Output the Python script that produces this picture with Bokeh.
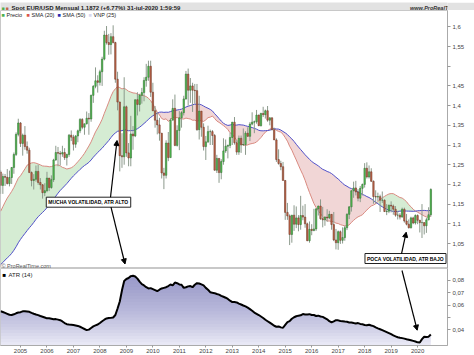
import numpy as np
import pandas as pd
from bokeh.plotting import figure
from bokeh.layouts import column
from bokeh.models import (Range1d, LinearAxis, FixedTicker, CustomJSTickFormatter,
                          Label, Arrow, NormalHead, ColumnDataSource)
from bokeh.embed import file_html
from bokeh.resources import INLINE

FONT = "Liberation Sans"

# ---------------- data (monthly EUR/USD) ----------------
start_year, start_month = 2004, 4          # first visible bar: Apr 2004
# closes before the visible window (Jan 2000 - Mar 2004), used to warm up the SMAs
hist_close = [0.970, 0.966, 0.957, 0.910, 0.935, 0.953, 0.925, 0.887, 0.882, 0.850, 0.870, 0.939,
              0.936, 0.921, 0.880, 0.887, 0.847, 0.849, 0.875, 0.912, 0.913, 0.904, 0.892, 0.890,
              0.859, 0.868, 0.872, 0.901, 0.933, 0.991, 0.977, 0.981, 0.987, 0.988, 0.993, 1.049,
              1.074, 1.078, 1.091, 1.117, 1.182, 1.150, 1.124, 1.098, 1.165, 1.160, 1.199, 1.259,
              1.247, 1.245, 1.2316]

opens = [1.2316, 1.1975, 1.2200, 1.2180, 1.2020, 1.2175, 1.2430, 1.2760, 1.3270,
         1.3560, 1.3040, 1.3250, 1.2960, 1.2870, 1.2300, 1.2100, 1.2130, 1.2330, 1.2050, 1.1990, 1.1790,
         1.1840, 1.2160, 1.1920, 1.2120, 1.2620, 1.2810, 1.2790, 1.2770, 1.2810, 1.2680, 1.2760, 1.3250,
         1.3200, 1.3020, 1.3230, 1.3360, 1.3650, 1.3450, 1.3540, 1.3680, 1.3660, 1.4260, 1.4490, 1.4630,
         1.4590, 1.4860, 1.5180, 1.5790, 1.5600, 1.5550, 1.5750, 1.5600, 1.4670, 1.4090, 1.2730, 1.2700,
         1.3970, 1.2800, 1.2670, 1.3280, 1.3230, 1.4150, 1.4030, 1.4260, 1.4330, 1.4640, 1.4720, 1.5000,
         1.4340, 1.3870, 1.3630, 1.3510, 1.3300, 1.2290, 1.2230, 1.3050, 1.2680, 1.3630, 1.3930, 1.2990,
         1.3370, 1.3690, 1.3820, 1.4170, 1.4800, 1.4390, 1.4500, 1.4390, 1.4380, 1.3390, 1.3860, 1.3450,
         1.2960, 1.3080, 1.3340, 1.3340, 1.3240, 1.2360, 1.2660, 1.2300, 1.2580, 1.2850, 1.2970, 1.2990,
         1.3190, 1.3580, 1.3060, 1.2820, 1.3170, 1.3000, 1.3010, 1.3300, 1.3220, 1.3530, 1.3580, 1.3590,
         1.3760, 1.3490, 1.3800, 1.3770, 1.3870, 1.3630, 1.3690, 1.3390, 1.3130, 1.2630, 1.2530, 1.2450,
         1.2100, 1.1290, 1.1200, 1.0730, 1.1220, 1.0990, 1.1150, 1.0980, 1.1210, 1.1170, 1.1000, 1.0570,
         1.0860, 1.0830, 1.0870, 1.1380, 1.1450, 1.1130, 1.1100, 1.1170, 1.1150, 1.1240, 1.0980, 1.0590,
         1.0520, 1.0800, 1.0580, 1.0650, 1.0900, 1.1240, 1.1430, 1.1840, 1.1910, 1.1810, 1.1650, 1.1900,
         1.2000, 1.2410, 1.2190, 1.2320, 1.2080, 1.1690, 1.1680, 1.1690, 1.1600, 1.1600, 1.1310, 1.1320,
         1.1470, 1.1450, 1.1370, 1.1220, 1.1220, 1.1170, 1.1370, 1.1070, 1.0990, 1.0900, 1.1150, 1.1020,
         1.1210, 1.1090, 1.1030, 1.1030, 1.0950, 1.1100, 1.1230]

highs = [1.2360, 1.2275, 1.2265, 1.2390, 1.2350, 1.2440, 1.2810, 1.3320, 1.3667,
         1.3580, 1.3290, 1.3480, 1.3090, 1.2930, 1.2330, 1.2260, 1.2480, 1.2500, 1.2160, 1.2010, 1.2030,
         1.2320, 1.2160, 1.2230, 1.2650, 1.2980, 1.2950, 1.2850, 1.2980, 1.2920, 1.2780, 1.3280, 1.3370,
         1.3260, 1.3250, 1.3390, 1.3680, 1.3680, 1.3540, 1.3850, 1.3810, 1.4280, 1.4520, 1.4970, 1.4770,
         1.4910, 1.5240, 1.5900, 1.6020, 1.5820, 1.5840, 1.6038, 1.5620, 1.4860, 1.4100, 1.3300, 1.4720,
         1.4000, 1.3050, 1.3740, 1.3480, 1.4150, 1.4340, 1.4300, 1.4450, 1.4720, 1.5060, 1.5140, 1.5140,
         1.4580, 1.3990, 1.3820, 1.3690, 1.3300, 1.2420, 1.3120, 1.3330, 1.3680, 1.4160, 1.4280, 1.3500,
         1.3860, 1.3860, 1.4250, 1.4880, 1.4940, 1.4700, 1.4580, 1.4550, 1.4550, 1.4250, 1.3860, 1.3550,
         1.3230, 1.3490, 1.3390, 1.3380, 1.3280, 1.2750, 1.2670, 1.2640, 1.3170, 1.3140, 1.3010, 1.3310,
         1.3580, 1.3710, 1.3120, 1.3240, 1.3240, 1.3420, 1.3350, 1.3450, 1.3580, 1.3830, 1.3620, 1.3890,
         1.3770, 1.3820, 1.3970, 1.3900, 1.3990, 1.3700, 1.3700, 1.3440, 1.3170, 1.2890, 1.2600, 1.2570,
         1.2110, 1.1530, 1.1240, 1.1220, 1.1470, 1.1440, 1.1220, 1.1710, 1.1460, 1.1500, 1.1030, 1.1060,
         1.0990, 1.1380, 1.1390, 1.1460, 1.1620, 1.1430, 1.1190, 1.1370, 1.1330, 1.1240, 1.1300, 1.0870,
         1.0830, 1.0830, 1.0910, 1.0950, 1.1270, 1.1450, 1.1850, 1.2070, 1.2090, 1.1880, 1.1960, 1.2020,
         1.2540, 1.2560, 1.2480, 1.2410, 1.2100, 1.1850, 1.1790, 1.1740, 1.1820, 1.1620, 1.1500, 1.1490,
         1.1570, 1.1490, 1.1450, 1.1330, 1.1270, 1.1410, 1.1410, 1.1250, 1.1110, 1.1180, 1.1180, 1.1240,
         1.1240, 1.1100, 1.1500, 1.1040, 1.1150, 1.1420, 1.1900]

lows = [1.1760, 1.1760, 1.1960, 1.2000, 1.1950, 1.2010, 1.2270, 1.2720, 1.3220,
        1.2950, 1.2730, 1.2880, 1.2780, 1.2300, 1.1950, 1.1870, 1.2070, 1.1990, 1.1870, 1.1640, 1.1700,
        1.1800, 1.1830, 1.1890, 1.2060, 1.2600, 1.2460, 1.2480, 1.2700, 1.2620, 1.2480, 1.2700, 1.3100,
        1.2860, 1.2930, 1.3070, 1.3300, 1.3400, 1.3260, 1.3520, 1.3260, 1.3590, 1.4070, 1.4440, 1.4330,
        1.4510, 1.4500, 1.5150, 1.5550, 1.5290, 1.5300, 1.5580, 1.4580, 1.3880, 1.2330, 1.2420, 1.2500,
        1.2700, 1.2460, 1.2460, 1.2880, 1.3200, 1.3750, 1.3850, 1.4050, 1.4110, 1.4480, 1.4630, 1.4220,
        1.3860, 1.3440, 1.3270, 1.3110, 1.2150, 1.1880, 1.2150, 1.2590, 1.2680, 1.3630, 1.2970, 1.2960,
        1.2870, 1.3440, 1.3750, 1.4150, 1.4000, 1.4070, 1.3840, 1.4050, 1.3360, 1.3140, 1.3210, 1.2860,
        1.2620, 1.3050, 1.3000, 1.3000, 1.2350, 1.2290, 1.2040, 1.2130, 1.2500, 1.2800, 1.2660, 1.2920,
        1.3000, 1.3010, 1.2750, 1.2750, 1.2800, 1.2990, 1.2750, 1.3210, 1.3100, 1.3500, 1.3300, 1.3540,
        1.3480, 1.3470, 1.3710, 1.3670, 1.3590, 1.3500, 1.3370, 1.3130, 1.2570, 1.2500, 1.2360, 1.2100,
        1.1100, 1.1100, 1.0460, 1.0520, 1.0820, 1.0890, 1.0810, 1.0850, 1.1090, 1.0900, 1.0560, 1.0520,
        1.0710, 1.0810, 1.0820, 1.1210, 1.1100, 1.0910, 1.0950, 1.1050, 1.1120, 1.0850, 1.0560, 1.0350,
        1.0340, 1.0490, 1.0500, 1.0570, 1.0840, 1.1120, 1.1310, 1.1660, 1.1720, 1.1570, 1.1550, 1.1720,
        1.1920, 1.2150, 1.2150, 1.2060, 1.1510, 1.1510, 1.1580, 1.1300, 1.1530, 1.1300, 1.1220, 1.1270,
        1.1290, 1.1230, 1.1180, 1.1110, 1.1110, 1.1160, 1.1030, 1.0960, 1.0880, 1.0880, 1.0990, 1.0980,
        1.0990, 1.0780, 1.0640, 1.0730, 1.0770, 1.1090, 1.1180]

closes = [1.1975, 1.2200, 1.2180, 1.2020, 1.2175, 1.2430, 1.2760, 1.3270, 1.3560,
          1.3040, 1.3250, 1.2960, 1.2870, 1.2300, 1.2100, 1.2130, 1.2330, 1.2050, 1.1990, 1.1790, 1.1840,
          1.2160, 1.1920, 1.2120, 1.2620, 1.2810, 1.2790, 1.2770, 1.2810, 1.2680, 1.2760, 1.3250, 1.3200,
          1.3020, 1.3230, 1.3360, 1.3650, 1.3450, 1.3540, 1.3680, 1.3660, 1.4260, 1.4490, 1.4630, 1.4590,
          1.4860, 1.5180, 1.5790, 1.5600, 1.5550, 1.5750, 1.5600, 1.4670, 1.4090, 1.2730, 1.2700, 1.3970,
          1.2800, 1.2670, 1.3280, 1.3230, 1.4150, 1.4030, 1.4260, 1.4330, 1.4640, 1.4720, 1.5000, 1.4340,
          1.3870, 1.3630, 1.3510, 1.3300, 1.2290, 1.2230, 1.3050, 1.2680, 1.3630, 1.3930, 1.2990, 1.3370,
          1.3690, 1.3820, 1.4170, 1.4800, 1.4390, 1.4500, 1.4390, 1.4380, 1.3390, 1.3860, 1.3450, 1.2960,
          1.3080, 1.3340, 1.3340, 1.3240, 1.2360, 1.2660, 1.2300, 1.2580, 1.2850, 1.2970, 1.2990, 1.3190,
          1.3580, 1.3060, 1.2820, 1.3170, 1.3000, 1.3010, 1.3300, 1.3220, 1.3530, 1.3580, 1.3590, 1.3760,
          1.3490, 1.3800, 1.3770, 1.3870, 1.3630, 1.3690, 1.3390, 1.3130, 1.2630, 1.2530, 1.2450, 1.2100,
          1.1290, 1.1200, 1.0730, 1.1220, 1.0990, 1.1150, 1.0980, 1.1210, 1.1170, 1.1000, 1.0570, 1.0860,
          1.0830, 1.0870, 1.1380, 1.1450, 1.1130, 1.1100, 1.1170, 1.1150, 1.1240, 1.0980, 1.0590, 1.0520,
          1.0800, 1.0580, 1.0650, 1.0900, 1.1240, 1.1430, 1.1840, 1.1910, 1.1810, 1.1650, 1.1900, 1.2000,
          1.2410, 1.2190, 1.2320, 1.2080, 1.1690, 1.1680, 1.1690, 1.1600, 1.1600, 1.1310, 1.1320, 1.1470,
          1.1450, 1.1370, 1.1220, 1.1220, 1.1170, 1.1370, 1.1070, 1.0990, 1.0900, 1.1150, 1.1020, 1.1210,
          1.1090, 1.1030, 1.1030, 1.0950, 1.1100, 1.1230, 1.1872]

# ATR(14), one value per month (Apr 2004 - Jul 2020)
atr14 = [0.0551, 0.0545, 0.0538, 0.0530, 0.0522, 0.0520, 0.0526, 0.0534, 0.0540,
         0.0543, 0.0550, 0.0551, 0.0549, 0.0546, 0.0537, 0.0530, 0.0524, 0.0519, 0.0512, 0.0506, 0.0500,
         0.0493, 0.0494, 0.0490, 0.0486, 0.0487, 0.0483, 0.0478, 0.0468, 0.0455, 0.0446, 0.0443, 0.0442,
         0.0440, 0.0436, 0.0432, 0.0425, 0.0416, 0.0407, 0.0398, 0.0402, 0.0415, 0.0428, 0.0436, 0.0443,
         0.0456, 0.0470, 0.0482, 0.0492, 0.0496, 0.0497, 0.0500, 0.0520, 0.0573, 0.0630, 0.0720, 0.0795,
         0.0812, 0.0820, 0.0835, 0.0838, 0.0832, 0.0815, 0.0790, 0.0770, 0.0760, 0.0745, 0.0735, 0.0738,
         0.0730, 0.0722, 0.0713, 0.0725, 0.0735, 0.0740, 0.0745, 0.0755, 0.0767, 0.0760, 0.0783, 0.0778,
         0.0768, 0.0765, 0.0740, 0.0745, 0.0752, 0.0755, 0.0745, 0.0765, 0.0778, 0.0775, 0.0768, 0.0760,
         0.0740, 0.0725, 0.0705, 0.0700, 0.0697, 0.0690, 0.0685, 0.0675, 0.0668, 0.0660, 0.0650, 0.0636,
         0.0625, 0.0625, 0.0622, 0.0612, 0.0605, 0.0597, 0.0590, 0.0580, 0.0568, 0.0555, 0.0540, 0.0530,
         0.0520, 0.0508, 0.0496, 0.0482, 0.0470, 0.0458, 0.0446, 0.0433, 0.0425, 0.0428, 0.0420, 0.0417,
         0.0440, 0.0462, 0.0470, 0.0490, 0.0502, 0.0510, 0.0515, 0.0518, 0.0528, 0.0525, 0.0525, 0.0527,
         0.0520, 0.0520, 0.0512, 0.0515, 0.0508, 0.0505, 0.0495, 0.0485, 0.0470, 0.0460, 0.0468, 0.0478,
         0.0477, 0.0472, 0.0470, 0.0467, 0.0465, 0.0460, 0.0460, 0.0455, 0.0452, 0.0455, 0.0448, 0.0445,
         0.0440, 0.0438, 0.0441, 0.0435, 0.0430, 0.0420, 0.0412, 0.0405, 0.0398, 0.0390, 0.0382, 0.0374,
         0.0365, 0.0355, 0.0347, 0.0340, 0.0336, 0.0333, 0.0329, 0.0324, 0.0320, 0.0316, 0.0311, 0.0306,
         0.0299, 0.0297, 0.0325, 0.0344, 0.0343, 0.0345, 0.0363]

year_ticks = list(range(2005, 2021))
price_ticks = [1.05, 1.1, 1.15, 1.2, 1.25, 1.3, 1.35, 1.4, 1.45, 1.5, 1.55, 1.6]
atr_ticks = [0.04, 0.05, 0.06, 0.07, 0.08]
last_price, last_sma50, last_sma20, last_atr = 1.1872, 1.1345, 1.1196, 0.0363
title_text = "Spot EUR/USD Mensual 1,1872 (+6,77%) 31-jul-2020 1:59:59"

# ---------------- derived ----------------
n = len(closes)
t = np.array([start_year + (start_month - 1 + i) / 12.0 for i in range(n)])
o, h, l, c = map(np.array, (opens, highs, lows, closes))
all_close = pd.Series(hist_close + closes)
sma20 = all_close.rolling(20).mean().to_numpy()[-n:]
sma50 = all_close.rolling(50).mean().to_numpy()[-n:]
atr = np.array(atr14)

XR = Range1d(2004.2444, 2021.13)
W = 474

# ---------------- title strip ----------------
pt = figure(width=W, height=10, x_range=Range1d(0, W), y_range=Range1d(0, 10),
            x_axis_type=None, y_axis_type=None, toolbar_location=None, output_backend="svg",
            min_border_left=0, min_border_right=0, min_border_top=0, min_border_bottom=0,
            background_fill_color="#e2e2e2", border_fill_color="#e2e2e2", outline_line_color=None)
pt.add_layout(Label(x=1, y=5, x_units="screen", y_units="screen", text="■", text_color="#4caf50",
                    text_font=FONT, text_font_size="5px", text_baseline="middle"))
pt.add_layout(Label(x=5, y=5, x_units="screen", y_units="screen", text="■", text_color="#c0674a",
                    text_font=FONT, text_font_size="5px", text_baseline="middle"))
pt.add_layout(Label(x=11, y=5, x_units="screen", y_units="screen", text=title_text, text_color="#222222",
                    text_font=FONT, text_font_size="6px", text_font_style="bold", text_baseline="middle"))
pt.add_layout(Label(x=470, y=5, x_units="screen", y_units="screen", text="www.ProRealTime.com",
                    text_color="#333333", text_font=FONT, text_font_size="5.5px", text_font_style="bold italic",
                    text_align="right", text_baseline="middle"))

# ---------------- price panel ----------------
pm = figure(width=W, height=258, x_range=XR, y_range=Range1d(0.98655, 1.6414),
            x_axis_type=None, y_axis_type=None, toolbar_location=None, output_backend="svg",
            min_border_left=0, min_border_right=27, min_border_top=0, min_border_bottom=0,
            background_fill_color="white", border_fill_color="white", outline_line_color="#c8c8c8")

pm.varea(x=t, y1=sma50, y2=np.maximum(sma20, sma50), fill_color="#d5ecd3")
pm.varea(x=t, y1=sma50, y2=np.minimum(sma20, sma50), fill_color="#f1d6d6")
pm.line(t, sma20, line_color="#d98a80", line_width=1)
pm.line(t, sma50, line_color="#5050c8", line_width=1)

up = c >= o
dn = ~up
for mask, fillc, linec in ((up, "#52c052", "#2e6b2e"), (dn, "#c0674a", "#6b3322")):
    src = ColumnDataSource(dict(t=t[mask], hi=h[mask], lo=l[mask],
                                top=np.maximum(o, c)[mask], bot=np.minimum(o, c)[mask]))
    pm.segment(x0="t", y0="hi", x1="t", y1="lo", source=src, line_color="#8c9a8c", line_width=1)
    pm.vbar(x="t", width=0.055, top="top", bottom="bot", source=src,
            fill_color=fillc, line_color=linec, line_width=0.5)

price_fmt = CustomJSTickFormatter(code="""
    if (Math.abs(tick - 1.5) < 1e-6) return "";
    return (Math.round(tick*100)/100).toString().replace(".", ",");
""")
ax = LinearAxis(ticker=FixedTicker(ticks=price_ticks), formatter=price_fmt,
                major_label_text_font=FONT, major_label_text_font_size="6px",
                major_label_text_color="#444444", major_tick_out=3, major_tick_in=0,
                major_label_standoff=2, minor_tick_out=0, minor_tick_in=0,
                axis_line_color="#aaaaaa", major_tick_line_color="#999999")
pm.add_layout(ax, "right")
pm.add_layout(Label(x=452, y=1.5, x_units="screen", text="1,5", text_font=FONT, text_font_size="6px",
                    text_font_style="bold", text_color="#222222", text_baseline="middle"))

# right-side value boxes
pm.add_layout(Label(x=448, y=last_price, x_units="screen", text="1,1872", text_font=FONT,
                    text_font_size="6.5px", text_font_style="bold", text_color="black",
                    text_baseline="middle", background_fill_color="#f2e030", padding=1))
pm.add_layout(Label(x=449, y=last_sma50, x_units="screen", text="1,1345", text_font=FONT,
                    text_font_size="5.5px", text_color="#3a3aa8", text_baseline="middle",
                    background_fill_color="white", border_line_color="#8080d0", border_line_width=0.7,
                    padding=1))
pm.add_layout(Label(x=449, y=last_sma20 - 0.004, x_units="screen", text="1,1196", text_font=FONT,
                    text_font_size="5.5px", text_color="#b05050", text_baseline="middle",
                    background_fill_color="white", border_line_color="#e0a0a0", border_line_width=0.7,
                    padding=1))

# legend row
leg_items = [(1, "■", "#4caf50"), (6, "Precio", "#222222"), (26, "■", "#d9574a"), (31, "SMA (20)", "#222222"),
             (57, "■", "#2a2ab0"), (62, "SMA (50)", "#222222"), (88, "■", "#d8d8f0"), (93, "VNP (25)", "#222222")]
for lx, txt, col in leg_items:
    pm.add_layout(Label(x=lx, y=253.5, x_units="screen", y_units="screen", text=txt, text_color=col,
                        text_font=FONT, text_font_size="5.5px", text_baseline="middle"))

pm.add_layout(Label(x=1, y=3, x_units="screen", y_units="screen", text="© ProRealTime.com",
                    text_color="#555555", text_font=FONT, text_font_size="5.5px", text_baseline="middle"))

# annotation boxes and arrows
for bx, by, txt in ((88, 66.3, "MUCHA VOLATILIDAD, ATR ALTO"), (405, 10, "POCA VOLATILIDAD, ATR BAJO")):
    pm.add_layout(Label(x=bx, y=by, x_units="screen", y_units="screen", text=txt, text_font=FONT,
                        text_font_size="5px", text_font_style="bold", text_color="black",
                        text_align="center", text_baseline="middle", background_fill_color="white",
                        border_line_color="#222222", border_line_width=1, padding=2))

def arrow(fig, x0, y0, x1, y1):
    fig.add_layout(Arrow(end=NormalHead(size=5, fill_color="black", line_color="black", line_width=1),
                         x_start=x0, y_start=y0, x_end=x1, y_end=y1,
                         start_units="screen", end_units="screen", line_color="black", line_width=1.2))

arrow(pm, 110, 71.3, 116.5, 128)
arrow(pm, 110.5, 61.3, 124.5, 4.5)
arrow(pm, 401, 14.7, 405.7, 36.3)

# ---------------- ATR panel ----------------
ATR_BOT = 0.02733
pa = figure(width=W, height=87, x_range=XR, y_range=Range1d(ATR_BOT, 0.08968),
            x_axis_type=None, y_axis_type=None, toolbar_location=None, output_backend="svg",
            min_border_left=0, min_border_right=27, min_border_top=0, min_border_bottom=10,
            background_fill_color="white", border_fill_color="white", outline_line_color="#c8c8c8")

pa.varea(x=t, y1=ATR_BOT, y2=atr, fill_color="#e8e8f5")
for lvl in np.arange(0.0300, 0.0860, 0.0025):
    pa.varea(x=t, y1=lvl, y2=np.maximum(atr, lvl), fill_color="#6a6ab8", fill_alpha=0.042)
pa.line(t, atr, line_color="black", line_width=2)

atr_fmt = CustomJSTickFormatter(code="""
    if (Math.abs(tick - 0.05) < 1e-6) return "";
    return (Math.round(tick*100)/100).toFixed(2).replace(".", ",");
""")
ay = LinearAxis(ticker=FixedTicker(ticks=atr_ticks), formatter=atr_fmt,
                major_label_text_font=FONT, major_label_text_font_size="6px",
                major_label_text_color="#444444", major_tick_out=3, major_tick_in=0,
                major_label_standoff=2, minor_tick_out=0, minor_tick_in=0,
                axis_line_color="#aaaaaa", major_tick_line_color="#999999")
pa.add_layout(ay, "right")
pa.add_layout(Label(x=452, y=0.05, x_units="screen", text="0,05", text_font=FONT, text_font_size="6px",
                    text_font_style="bold", text_color="#222222", text_baseline="middle"))
pa.add_layout(Label(x=448, y=last_atr, x_units="screen", text="0,0363", text_font=FONT,
                    text_font_size="5.5px", text_color="#222222", text_baseline="middle",
                    background_fill_color="white", border_line_color="#999999", border_line_width=0.7,
                    padding=1))

yr_fmt = CustomJSTickFormatter(code="return tick.toFixed(0);")
axx = LinearAxis(ticker=FixedTicker(ticks=year_ticks), formatter=yr_fmt,
                 major_label_text_font=FONT, major_label_text_font_size="6px",
                 major_label_text_color="#444444", major_tick_out=2, major_tick_in=0,
                 major_label_standoff=1, minor_tick_out=0, minor_tick_in=0,
                 axis_line_color="#aaaaaa", major_tick_line_color="#999999")
pa.add_layout(axx, "below")

pa.add_layout(Label(x=2, y=70.5, x_units="screen", y_units="screen", text="■", text_color="black",
                    text_font=FONT, text_font_size="6px", text_baseline="middle"))
pa.add_layout(Label(x=8, y=70.5, x_units="screen", y_units="screen", text="ATR (14)", text_color="#222222",
                    text_font=FONT, text_font_size="6px", text_baseline="middle"))

arrow(pa, 401.5, 75, 416.7, 15.3)

layout = column(pt, pm, pa, spacing=0)
open("out.html", "w").write(file_html(layout, INLINE))
